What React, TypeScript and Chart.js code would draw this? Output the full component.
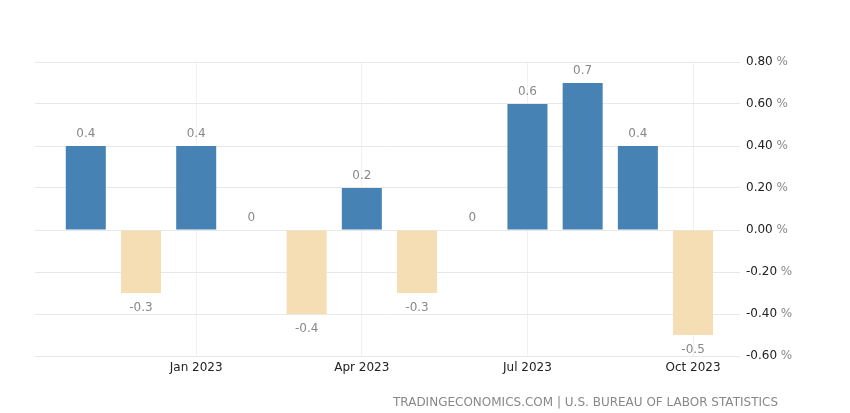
import React, {useEffect, useRef} from "react";
import {Chart, registerables} from 'chart.js';

Chart.register(...registerables)

// monthly change, Nov 2022 .. Oct 2023
const months = ['Nov 2022','Dec 2022','Jan 2023','Feb 2023','Mar 2023','Apr 2023','May 2023','Jun 2023','Jul 2023','Aug 2023','Sep 2023','Oct 2023']
const values = [0.4, -0.3, 0.4, 0, -0.4, 0.2, -0.3, 0, 0.6, 0.7, 0.4, -0.5]
const xTickLabels = ['Jan 2023','Apr 2023','Jul 2023','Oct 2023']
const yTicks = [-0.6, -0.4, -0.2, 0, 0.2, 0.4, 0.6, 0.8]
const footer = 'TRADINGECONOMICS.COM | U.S. BUREAU OF LABOR STATISTICS'

const BLUE = '#4682B4'
const WHEAT = '#F5DEB3'
const FONT = '"DejaVu Sans", Verdana, sans-serif'

const labelsPlugin = {
    id: 'valueLabels',
    afterDatasetsDraw(chart:any) {
        const ctx = chart.ctx as CanvasRenderingContext2D
        const meta = chart.getDatasetMeta(0)
        ctx.save()
        ctx.font = '12px ' + FONT
        ctx.fillStyle = '#888'
        ctx.textAlign = 'center'
        ctx.textBaseline = 'alphabetic'
        meta.data.forEach((bar:any, i:number) => {
            const v = values[i]
            const txt = v === 0 ? '0' : String(v)
            if (v < 0) ctx.fillText(txt, bar.x, bar.y + 18)
            else ctx.fillText(txt, bar.x, bar.y - 9)
        })

        // right axis labels: number dark, percent sign grey
        const y = chart.scales.y
        ctx.textAlign = 'left'
        ctx.textBaseline = 'middle'
        y.ticks.forEach((t:any) => {
            const py = y.getPixelForValue(t.value)
            const num = Number(t.value).toFixed(2)
            const px = chart.chartArea.right + 6
            ctx.fillStyle = '#222'
            ctx.fillText(num, px, py)
            const w = ctx.measureText(num + ' ').width
            ctx.fillStyle = '#888'
            ctx.fillText('%', px + w, py)
        })

        // source line
        ctx.fillStyle = '#888'
        ctx.textAlign = 'right'
        ctx.textBaseline = 'alphabetic'
        ctx.fillText(footer, 778, 406)
        ctx.restore()
    }
}

const App = () => {
    const canvasRef = useRef<HTMLCanvasElement>(null)

    useEffect(() => {
        const ctx = canvasRef.current?.getContext('2d')
        if (!ctx) return

        const tickIdx = months.map((m, i) => xTickLabels.includes(m) ? i : -1).filter(i => i >= 0)

        const config:any = {
            type: 'bar',
            data: {
                datasets: [{
                    data: values.map((v, i) => ({x: i, y: v})),
                    backgroundColor: values.map(v => v < 0 ? WHEAT : BLUE),
                    borderWidth: 0,
                    barPercentage: 0.725,
                    categoryPercentage: 1,
                }]
            },
            options: {
                animation: false,
                responsive: true,
                maintainAspectRatio: false,
                layout: {padding: {left: 35, top: 62, right: 0, bottom: 0}},
                plugins: {
                    legend: {display: false},
                    tooltip: {enabled: false},
                },
                scales: {
                    x: {
                        type: 'linear',
                        offset: false,
                        min: -0.92,
                        max: 11.85,
                        afterBuildTicks: (axis:any) => {
                            axis.ticks = tickIdx.map(v => ({value: v}))
                        },
                        afterFit: (scale:any) => { scale.height = 57 },
                        grid: {color: '#f0f0f0', drawTicks: false, offset: false},
                        border: {display: false},
                        ticks: {
                            padding: 5,
                            maxRotation: 0,
                            autoSkip: false,
                            color: '#222',
                            font: {family: FONT, size: 12},
                            callback: (v:any) => months[v] ?? '',
                        },
                    },
                    y: {
                        position: 'right',
                        min: yTicks[0],
                        max: yTicks[yTicks.length - 1],
                        afterBuildTicks: (axis:any) => {
                            axis.ticks = yTicks.map(v => ({value: v}))
                        },
                        afterFit: (scale:any) => { scale.width = 110 },
                        grid: {color: '#e8e8e8', drawTicks: false},
                        border: {display: false},
                        ticks: {display: false},
                    },
                },
            },
            plugins: [labelsPlugin],
        }

        const chart = new Chart(ctx, config)
        return () => { chart.destroy() }
    }, [])

    return (
        <div style={{position: 'absolute', left: 0, top: 0, width: '850px', height: '413px', background: '#fff'}}>
            <canvas ref={canvasRef}></canvas>
        </div>
    )
}

export default App
